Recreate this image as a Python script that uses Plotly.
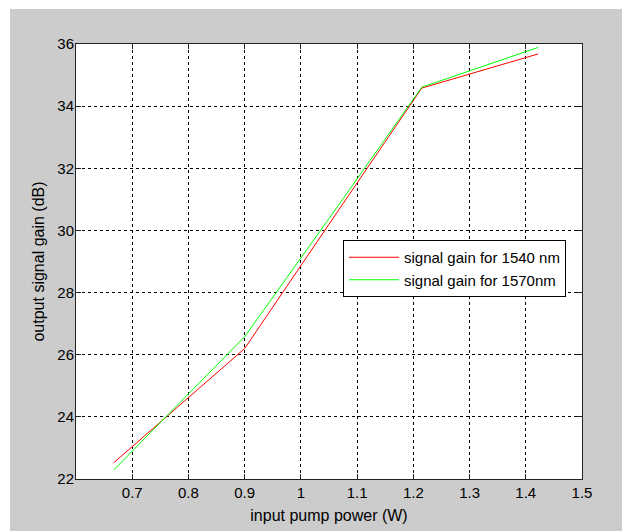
import plotly.graph_objects as go

# Data
pump_power = [0.667, 0.9, 1.05, 1.215, 1.422]
gain_1540 = [22.52, 26.2, 30.2, 34.58, 35.68]
gain_1570 = [22.29, 26.58, 30.38, 34.61, 35.89]
series_names = ["signal gain for 1540 nm", "signal gain for 1570nm"]
x_ticks = [0.7, 0.8, 0.9, 1.0, 1.1, 1.2, 1.3, 1.4, 1.5]
x_tick_labels = ["0.7", "0.8", "0.9", "1", "1.1", "1.2", "1.3", "1.4", "1.5"]
y_ticks = [22, 24, 26, 28, 30, 32, 34, 36]

# the page body has an 8px margin, so the figure is drawn 8px in from top/left;
# the figure is kept full size so the gray fills the window to its right/bottom edges
OFF = 8
W, H = 630, 531
L, R, T, B = 76 - OFF, 48 + OFF, 44 - OFF, 52 + OFF
pw, ph = W - L - R, H - T - B

FONT = "Liberation Sans, Arial, sans-serif"

fig = go.Figure()
fig.add_trace(go.Scatter(x=pump_power, y=gain_1540, mode="lines",
                         line=dict(color="#ff0000", width=1), name=series_names[0]))
fig.add_trace(go.Scatter(x=pump_power, y=gain_1570, mode="lines",
                         line=dict(color="#00ff00", width=1), name=series_names[1]))

def px_x(p):
    return (p - L) / pw

def px_y(p):
    return (H - B - p) / ph

shapes = [
    dict(type="rect", xref="paper", yref="paper", x0=px_x(0), x1=px_x(W), y0=px_y(0), y1=px_y(1),
         fillcolor="white", line=dict(width=0), layer="below"),
    dict(type="rect", xref="paper", yref="paper", x0=px_x(0), x1=px_x(2), y0=px_y(0), y1=px_y(H),
         fillcolor="white", line=dict(width=0), layer="below"),
]

axis_common = dict(
    showgrid=True, gridcolor="black", griddash="3px,3px", gridwidth=1,
    showline=True, linecolor="#222222", linewidth=1, mirror="allticks",
    ticks="inside", ticklen=5, tickcolor="#222222",
    zeroline=False,
    tickfont=dict(family=FONT, size=15, color="black"),
)

fig.update_layout(
    width=W, height=H,
    margin=dict(l=L, r=R, t=T, b=B),
    paper_bgcolor="#cccccc", plot_bgcolor="white",
    shapes=shapes,
    showlegend=True,
    legend=dict(x=px_x(343 - OFF), y=px_y(240 - OFF), xanchor="left", yanchor="top",
                bgcolor="white", bordercolor="black", borderwidth=1,
                font=dict(family=FONT, size=15, color="black"),
                itemwidth=50, tracegroupgap=0),
    xaxis=dict(range=[0.6, 1.5], tickvals=x_ticks, ticktext=x_tick_labels,
               title=dict(text="input pump power (W)", standoff=9,
                          font=dict(family=FONT, size=16, color="black")),
               **axis_common),
    yaxis=dict(range=[22, 36], tickvals=y_ticks, ticklabelstandoff=-2,
               title=dict(text="output signal gain (dB)", standoff=8,
                          font=dict(family=FONT, size=16, color="black")),
               **axis_common),
)

fig.write_html("out.html")
